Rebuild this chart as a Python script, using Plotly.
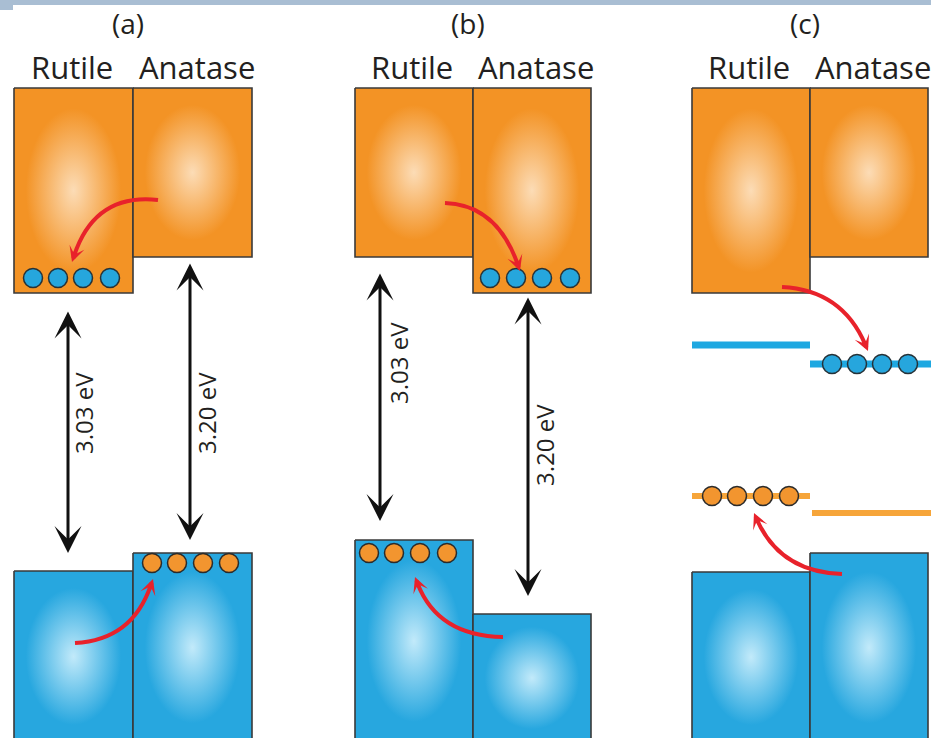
import numpy as np
import plotly.graph_objects as go

# ---- diagram geometry (pixel units, y grows downward) ----
W, H = 931, 738
panel_labels = ["(a)", "(b)", "(c)"]
panel_left = [14, 355, 692]          # left edge of the rutile column
col_width = [119, 118, 118]          # width of each column (rutile / anatase)
cb_top = 88
vb_bottom = 742
cb_bottom_rutile = [293, 257, 293]
cb_bottom_anatase = [257, 293, 257]
vb_top_rutile = [571, 540, 572]
vb_top_anatase = [553, 614, 553]

# trapped charges (circle centres)
electron_x = [[33, 58, 83, 110], [490, 516, 542, 570], [832, 857, 882, 908]]
electron_y = [278, 278, 364]
hole_x = [[152, 177, 203, 229], [369, 394, 420, 447], [712, 737, 763, 789]]
hole_y = [563, 553, 496]

# panel (c) trap levels
trap_blue = [(692, 810, 345), (810, 931, 364)]
trap_orange = [(692, 810, 496), (812, 931, 513)]

# band gap arrows: x, top, bottom, label, label x, label y
gap_x = [68, 190, 380, 528]
gap_top = [310, 262, 272, 296]
gap_bottom = [553, 540, 521, 596]
gap_label = ["3.03 eV", "3.20 eV", "3.03 eV", "3.20 eV"]
gap_label_x = [83, 206, 398, 544]
gap_label_y = [413, 413, 363, 445]

# red transfer arrows: start, control, tip
transfer_start = [(158, 200), (75, 643), (445, 203), (503, 637), (782, 287), (842, 574)]
transfer_ctrl = [(95, 193), (132, 640), (497, 205), (438, 636), (842, 290), (780, 572)]
transfer_tip = [(72, 262), (153, 579), (520, 271), (415, 577), (868, 351), (754, 513)]

ORANGE = "#f39325"
ORANGE_C = "#fcdcb6"
BLUE = "#27a7df"
BLUE_C = "#c2eafa"
EDGE = "#3a3a3a"
RED = "#e8222b"
TXT = "#231f20"
FONT = "Open Sans"

fig = go.Figure()


def box(x0, x1, y0, y1, edge, centre):
    fig.add_trace(go.Scatter(
        x=[x0, x1, x1, x0, x0], y=[y0, y0, y1, y1, y0],
        mode="lines", fill="toself",
        fillgradient=dict(type="radial",
                          colorscale=[[0, centre], [0.8, edge], [1, edge]]),
        line=dict(color=EDGE, width=1.6),
        hoverinfo="skip", showlegend=False))


for i in range(3):
    xl = panel_left[i]
    xm = xl + col_width[i]
    xr = xm + col_width[i]
    box(xl, xm, cb_top, cb_bottom_rutile[i], ORANGE, ORANGE_C)
    box(xm, xr, cb_top, cb_bottom_anatase[i], ORANGE, ORANGE_C)
    box(xl, xm, vb_top_rutile[i], vb_bottom, BLUE, BLUE_C)
    box(xm, xr, vb_top_anatase[i], vb_bottom, BLUE, BLUE_C)

shapes = []
# top band
shapes.append(dict(type="rect", x0=0, x1=W, y0=0, y1=5, fillcolor="#a9bed3",
                   line=dict(width=0), layer="above"))
shapes.append(dict(type="rect", x0=0, x1=13, y0=0, y1=10, fillcolor="#a9bed3",
                   line=dict(width=0), layer="above"))

# trap levels
for x0, x1, y in trap_blue:
    shapes.append(dict(type="line", x0=x0, x1=x1, y0=y, y1=y,
                       line=dict(color="#1ea8e1", width=7), layer="above"))
for x0, x1, y in trap_orange:
    shapes.append(dict(type="line", x0=x0, x1=x1, y0=y, y1=y,
                       line=dict(color="#f6a53a", width=6), layer="above"))

# red curved arrows
annotations = []
for (x0, y0), (cx, cy), (x1, y1) in zip(transfer_start, transfer_ctrl, transfer_tip):
    t = np.array([x1 - cx, y1 - cy], dtype=float)
    t /= np.hypot(*t)
    ex, ey = x1 - 7 * t[0], y1 - 7 * t[1]
    shapes.append(dict(type="path", path=f"M {x0},{y0} Q {cx},{cy} {ex:.1f},{ey:.1f}",
                       line=dict(color=RED, width=4), layer="above"))
    annotations.append(dict(x=x1, y=y1, ax=x1 - 12 * t[0], ay=y1 - 12 * t[1],
                            xref="x", yref="y", axref="x", ayref="y", text="",
                            showarrow=True, arrowhead=3, arrowsize=0.65, arrowwidth=4,
                            arrowcolor=RED, standoff=0))

# charges
for xs, y in zip(electron_x, electron_y):
    for x in xs:
        shapes.append(dict(type="circle", x0=x - 9.5, x1=x + 9.5, y0=y - 9.5, y1=y + 9.5,
                           fillcolor="#26a6dd", line=dict(color="#263238", width=1.5),
                           layer="above"))
for xs, y in zip(hole_x, hole_y):
    for x in xs:
        shapes.append(dict(type="circle", x0=x - 9.5, x1=x + 9.5, y0=y - 9.5, y1=y + 9.5,
                           fillcolor="#f2952f", line=dict(color="#2b2b2b", width=1.5),
                           layer="above"))

# band gap double arrows
for x, yt, yb, lab, lx, ly in zip(gap_x, gap_top, gap_bottom, gap_label, gap_label_x, gap_label_y):
    annotations.append(dict(x=x, y=yb, ax=x, ay=yt, xref="x", yref="y", axref="x", ayref="y",
                            text="", showarrow=True, arrowside="end+start",
                            arrowhead=3, startarrowhead=3, arrowsize=1.5, startarrowsize=1.5,
                            arrowwidth=3, arrowcolor="#111111", standoff=0, startstandoff=0))
    annotations.append(dict(x=lx, y=ly, xref="x", yref="y", text=lab, showarrow=False,
                            textangle=-90, font=dict(family=FONT, size=24, color=TXT)))

# titles
for i, lab in enumerate(panel_labels):
    xl = panel_left[i]
    xm = xl + col_width[i]
    xr = xm + col_width[i]
    annotations.append(dict(x=xm - 5, y=23, xref="x", yref="y", text=lab, showarrow=False,
                            font=dict(family=FONT, size=28, color=TXT)))
    annotations.append(dict(x=(xl + xm) / 2 - 2, y=67, xref="x", yref="y", text="Rutile",
                            showarrow=False, font=dict(family=FONT, size=31, color=TXT)))
    annotations.append(dict(x=(xm + xr) / 2 + 4, y=67, xref="x", yref="y", text="Anatase",
                            showarrow=False, font=dict(family=FONT, size=31, color=TXT)))

fig.update_layout(
    width=W, height=H,
    margin=dict(l=0, r=0, t=0, b=0),
    paper_bgcolor="white", plot_bgcolor="white",
    xaxis=dict(range=[0, W], visible=False, fixedrange=True),
    yaxis=dict(range=[H, 0], visible=False, fixedrange=True),
    shapes=shapes, annotations=annotations,
    showlegend=False,
)

fig.write_html("out.html", config=dict(displayModeBar=False),
               post_script="document.body.style.margin='0';document.body.style.overflow='hidden';")
